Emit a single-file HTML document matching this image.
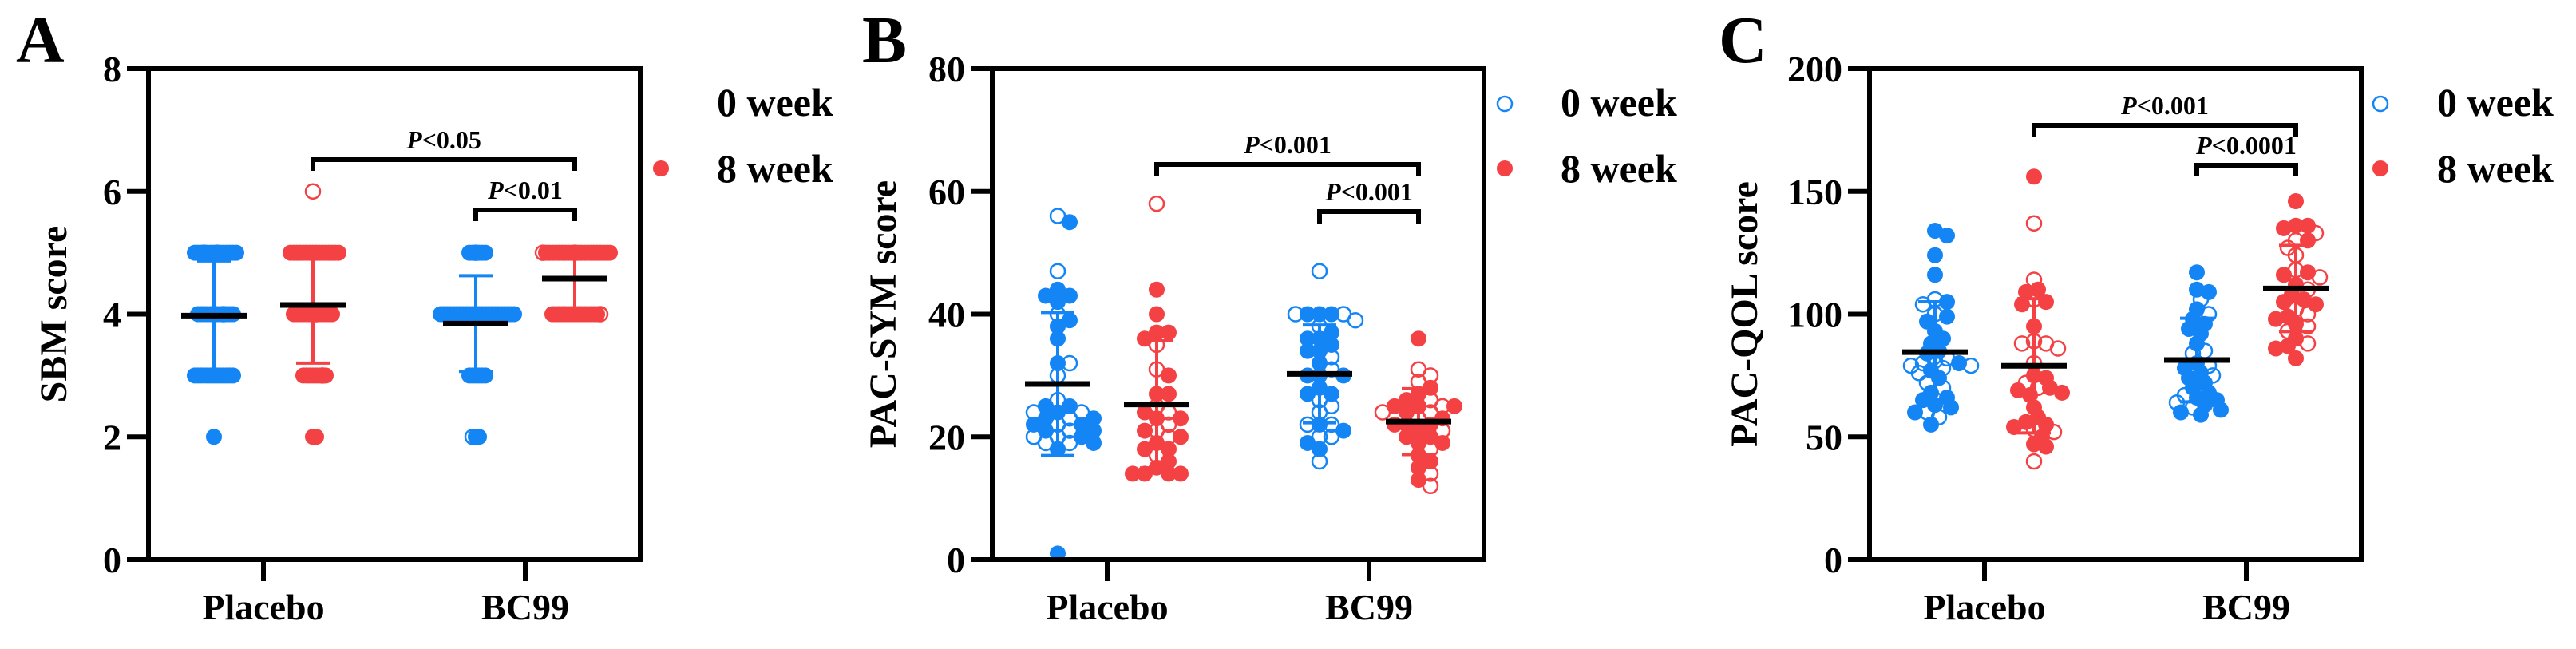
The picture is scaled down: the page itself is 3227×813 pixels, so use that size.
<!DOCTYPE html>
<html><head><meta charset="utf-8"><style>
html,body{margin:0;padding:0;background:#fff;}
svg{display:block;}
text{font-family:"Liberation Serif",serif;font-weight:bold;fill:#000;}
</style></head><body>
<svg id="chart" width="3227" height="813" viewBox="0 0 3227 813" xmlns="http://www.w3.org/2000/svg"></svg>
<script>
// ---------- data ----------
const categories = ["Placebo","BC99"];
const seriesNames = ["0 week","8 week"];
// Panel A: SBM score
const aTicks = [0,2,4,6,8];
const aPlacebo0 = [5,5,5,5,5,5,5,5,5,5,5,5,5,5,4,4,4,4,4,4,4,4,4,4,4,4,3,3,3,3,3,3,3,3,3,3,3,3,3,2];
const aPlacebo0Fill = "foffffofffffffoffffoffffffffffffffffffff";
const aPlacebo8 = [6,5,5,5,5,5,5,5,5,5,5,5,5,5,5,5,5,4,4,4,4,4,4,4,4,4,4,4,4,4,3,3,3,3,3,3,3,3,2,2];
const aPlacebo8Fill = "offfffffffffffffffoffffffffffffffffoffff";
const aBC0 = [5,5,5,5,5,5,4,4,4,4,4,4,4,4,4,4,4,4,4,4,4,4,4,4,4,4,4,4,4,4,3,3,3,3,3,3,2,2,2];
const aBC0Fill = "offfffffffffffffffffffffffffffffffffffo";
const aBC8 = [5,5,5,5,5,5,5,5,5,5,5,5,5,5,5,5,5,5,5,5,5,5,4,4,4,4,4,4,4,4,4,4,4,4,4,4,4,4];
const aBC8Fill = "offfffffffffffffffffoffffffffffffffffo";
// Panel B: PAC-SYM score
const bTicks = [0,20,40,60,80];
const bPlacebo0 = [56,55,47,44,43,43,42,40,39,38,36,32,32,30,26,25,24,24,23,23,22,22,21,21,21,20,20,20,19,19,19,18,22,24,25,23,1];
const bPlacebo0Fill = "ofoffffoffffoooffoofofoffofooofffoff";
const bPlacebo8 = [58,44,40,37,37,36,35,31,30,27,27,25,24,24,23,23,22,21,21,20,20,19,18,18,17,16,15,14,14,14,14];
const bPlacebo8Fill = "offfffoofffoofffoofoffffoffffff";
const bBC0 = [47,40,40,40,40,40,39,38,37,36,36,35,34,34,33,32,31,30,30,30,28,27,27,26,25,24,22,22,22,21,20,20,19,18,16];
const bBC0Fill = "offfooooffffffofoffffffooofoofooffof";
const bBC8 = [36,31,30,29,28,27,26,26,25,25,25,25,24,24,24,23,23,22,22,21,20,19,19,18,16,15,14,13,12,20,21,22,17];
const bBC8Fill = "foooffoffoffofoofffffffoffofofoffo";
// Panel C: PAC-QOL score
const cTicks = [0,50,100,150,200];
const cPlacebo0 = [134,132,124,116,106,105,104,100,99,97,93,90,88,85,84,82,81,80,80,79,79,78,77,76,74,72,70,68,66,65,63,62,60,60,58,55];
const cPlacebo0Fill = "ffffofoofffffffooofooofofoofffffofofo";
const cPlacebo8 = [156,137,114,110,109,106,105,104,95,89,88,88,86,80,75,74,72,70,70,69,68,67,62,58,56,55,54,53,52,50,47,46,40];
const cPlacebo8Fill = "fooffofffoooooffoofffffffffoofffo";
const cBC0 = [117,110,109,106,102,100,98,96,94,92,88,85,84,80,79,78,76,75,74,72,70,68,67,66,65,64,63,62,61,60,59];
const cBC0Fill = "fffofofffffoofoffoffffoffofoffff";
const cBC8 = [146,136,136,135,133,130,130,127,124,118,117,116,115,112,110,108,106,105,104,102,100,99,98,96,95,93,90,88,87,86,82];
const cBC8Fill = "ffffoofoooffofoffffoofffoofofffff";

// ---------- drawing ----------
const NS = "http://www.w3.org/2000/svg";
const svg = document.getElementById("chart");
const BLUE = "#1485f5", RED = "#f44144";
function mk(tag, attrs, parent){
  const e = document.createElementNS(NS, tag);
  for (const k in attrs) e.setAttribute(k, attrs[k]);
  (parent||svg).appendChild(e);
  return e;
}
function mean(a){return a.reduce((s,v)=>s+v,0)/a.length;}
function sd(a){const m=mean(a);return Math.sqrt(a.reduce((s,v)=>s+(v-m)*(v-m),0)/(a.length-1));}

function drawPanel(p){
  const g = mk("g",{});
  
  
  const L=p.left, W=616, T=86, B=701;
  const yMax = p.ticks[p.ticks.length-1];
  const y = v => B - (v/yMax)*(B-T);
  const catX = i => L + 144 + i*328;
  const grpX = (ci,si) => catX(ci) + (si===0?-62:62);
  const let_ = mk("text",{x:p.letterX,y:78,"font-size":84},g); let_.textContent=p.letter;
  
  
  p.groups.forEach(gr=>{
    const cx = grpX(gr.ci, gr.si);
    const col = gr.si===0?BLUE:RED;
    const gg = mk("g",{},g);
    
    
    const placed=[];
    const idx = gr.vals.map((v,i)=>i).sort((a,b)=>gr.vals[b]-gr.vals[a]);
    idx.forEach(i=>{
      const v=gr.vals[i], py=y(v);
      let off=0;
      for(let k=0;k<80;k++){
        const cand = (k===0?0:(k%2?1:-1)*Math.ceil(k/2)*p.step);
        const ok = placed.every(q=>{const dx=q[0]-cand,dy=q[1]-py;return dx*dx+dy*dy>=p.sep*p.sep;});
        off=cand;
        if(ok) break;
      }
      placed.push([off,py]);
      const filled = (gr.fill[i]||"f")==="f";
      const c = mk("circle",{cx:cx+off,cy:py,r:filled?10:9,fill:filled?col:"none",stroke:col,"stroke-width":filled?0:2.5},gg);
      
      
    });
    const m=mean(gr.vals), s=sd(gr.vals);
    const wk = mk("g",{},g);
    
    
    mk("line",{x1:cx,x2:cx,y1:y(m-s),y2:y(m+s),stroke:col,"stroke-width":4},wk);
    mk("line",{x1:cx-21,x2:cx+21,y1:y(m-s),y2:y(m-s),stroke:col,"stroke-width":4},wk);
    mk("line",{x1:cx-21,x2:cx+21,y1:y(m+s),y2:y(m+s),stroke:col,"stroke-width":4},wk);
    const ml = mk("line",{x1:cx-41,x2:cx+41,y1:y(m),y2:y(m),stroke:"#000","stroke-width":7},g);
    
    
  });
  const box = mk("rect",{x:L,y:T,width:W,height:B-T,fill:"none",stroke:"#000","stroke-width":6},g);
  
  
  p.ticks.forEach(t=>{
    mk("line",{x1:L-27,x2:L,y1:y(t),y2:y(t),stroke:"#000","stroke-width":6},g);
    const tl = mk("text",{x:L-34,y:y(t)+16,"font-size":46,"text-anchor":"end"},g); tl.textContent=t;
    
    
  });
  categories.forEach((c,i)=>{
    mk("line",{x1:catX(i),x2:catX(i),y1:B,y2:B+27,stroke:"#000","stroke-width":6},g);
    const cl = mk("text",{x:catX(i),y:776,"font-size":46,"text-anchor":"middle"},g); cl.textContent=c;
    
    
  });
  const yt = mk("text",{x:0,y:0,"font-size":48,"text-anchor":"middle",transform:`translate(${L-p.titleOff},${(T+B)/2}) rotate(-90)`},g);
  yt.textContent=p.ytitle;
  
  
  p.brackets.forEach(br=>{
    const x1=grpX(br.a[0],br.a[1]), x2=grpX(br.b[0],br.b[1]);
    const bg = mk("g",{},g);
    
    
    mk("path",{d:`M${x1},${br.y+br.leg} V${br.y} H${x2} V${br.y+br.leg}`,fill:"none",stroke:"#000","stroke-width":6},bg);
    const tx = mk("text",{x:(x1+x2)/2,y:br.y-14,"font-size":32,"text-anchor":"middle"},bg);
    const ip = mk("tspan",{"font-style":"italic"},tx); ip.textContent="P";
    const rest = mk("tspan",{},tx); rest.textContent=br.label;
  });
  const lg = mk("g",{},g);
  
  
  const lx = L+W+p.legMarkOff, tx = L+W+p.legTextOff;
  if(p.showBlueLegend) mk("circle",{cx:lx,cy:130,r:9,fill:"none",stroke:BLUE,"stroke-width":2.5},lg);
  mk("circle",{cx:lx,cy:211,r:10,fill:RED},lg);
  const t0 = mk("text",{x:tx,y:145,"font-size":50},lg); t0.textContent=seriesNames[0];
  
  
  const t8 = mk("text",{x:tx,y:228,"font-size":50},lg); t8.textContent=seriesNames[1];
  
  
}

drawPanel({name:"panel-a-sbm",letter:"A",letterX:20,left:186,ticks:aTicks,ytitle:"SBM score",step:2,sep:4,titleOff:103,
  legMarkOff:26,legTextOff:96,showBlueLegend:false,
  groups:[{ci:0,si:0,vals:aPlacebo0,fill:aPlacebo0Fill},{ci:0,si:1,vals:aPlacebo8,fill:aPlacebo8Fill},
          {ci:1,si:0,vals:aBC0,fill:aBC0Fill},{ci:1,si:1,vals:aBC8,fill:aBC8Fill}],
  brackets:[{a:[0,1],b:[1,1],y:200,leg:14,label:"<0.05"},{a:[1,0],b:[1,1],y:263,leg:14,label:"<0.01"}]});
drawPanel({name:"panel-b-pac-sym",letter:"B",letterX:1080,left:1243,ticks:bTicks,ytitle:"PAC-SYM score",step:5,sep:13,titleOff:121,
  legMarkOff:26,legTextOff:96,showBlueLegend:true,
  groups:[{ci:0,si:0,vals:bPlacebo0,fill:bPlacebo0Fill},{ci:0,si:1,vals:bPlacebo8,fill:bPlacebo8Fill},
          {ci:1,si:0,vals:bBC0,fill:bBC0Fill},{ci:1,si:1,vals:bBC8,fill:bBC8Fill}],
  brackets:[{a:[0,1],b:[1,1],y:206,leg:14,label:"<0.001"},{a:[1,0],b:[1,1],y:265,leg:15,label:"<0.001"}]});
drawPanel({name:"panel-c-pac-qol",letter:"C",letterX:2153,left:2342,ticks:cTicks,ytitle:"PAC-QOL score",step:5,sep:13,titleOff:141,
  legMarkOff:24,legTextOff:95,showBlueLegend:true,
  groups:[{ci:0,si:0,vals:cPlacebo0,fill:cPlacebo0Fill},{ci:0,si:1,vals:cPlacebo8,fill:cPlacebo8Fill},
          {ci:1,si:0,vals:cBC0,fill:cBC0Fill},{ci:1,si:1,vals:cBC8,fill:cBC8Fill}],
  brackets:[{a:[0,1],b:[1,1],y:157,leg:14,label:"<0.001"},{a:[1,0],b:[1,1],y:207,leg:14,label:"<0.0001"}]});
</script>
</body></html>
